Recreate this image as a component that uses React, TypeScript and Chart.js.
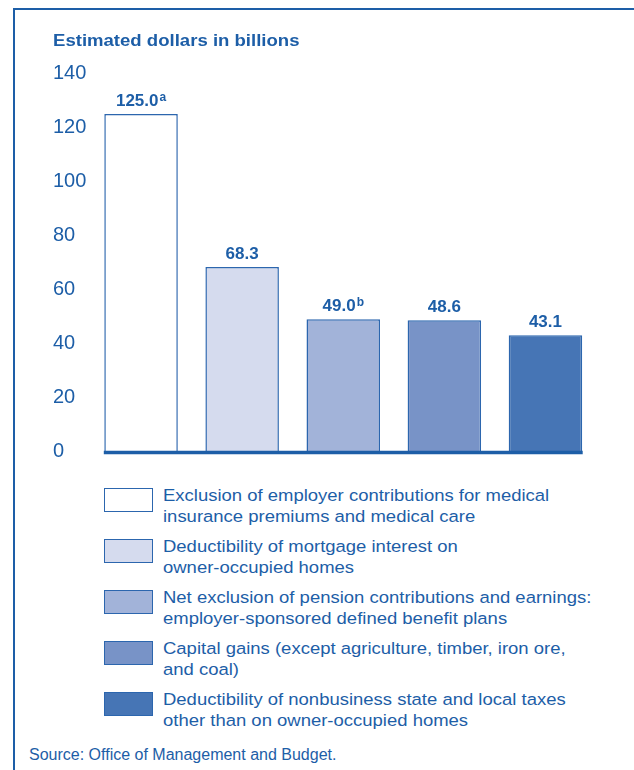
import React, { useEffect, useRef } from "react";
import { Chart, registerables } from "chart.js";

Chart.register(...registerables);

const titleText = "Estimated dollars in billions";
const sourceText = "Source: Office of Management and Budget.";

const categories = [
  "Exclusion of employer contributions for medical insurance premiums and medical care",
  "Deductibility of mortgage interest on owner-occupied homes",
  "Net exclusion of pension contributions and earnings: employer-sponsored defined benefit plans",
  "Capital gains (except agriculture, timber, iron ore, and coal)",
  "Deductibility of nonbusiness state and local taxes other than on owner-occupied homes",
];

const legendLines = [
  ["Exclusion of employer contributions for medical", "insurance premiums and medical care"],
  ["Deductibility of mortgage interest on", "owner-occupied homes"],
  ["Net exclusion of pension contributions and earnings:", "employer-sponsored defined benefit plans"],
  ["Capital gains (except agriculture, timber, iron ore,", "and coal)"],
  ["Deductibility of nonbusiness state and local taxes", "other than on owner-occupied homes"],
];

const values = [125.0, 68.3, 49.0, 48.6, 43.1];
const valueLabels = ["125.0", "68.3", "49.0", "48.6", "43.1"];
const footnotes = ["a", "", "b", "", ""];
const yTicks = [0, 20, 40, 60, 80, 100, 120, 140];

const fillColors = ["#ffffff", "#d5dbee", "#a2b3d9", "#7893c7", "#4675b5"];
const BLUE = "#1d5ea7";
const BORDER = "#2c66ae";
const FONT = "'Liberation Sans', Arial, Helvetica, sans-serif";

const barDecor = {
  id: "barDecor",
  afterDatasetsDraw(chart: any) {
    const ctx = chart.ctx;
    const meta = chart.getDatasetMeta(0);
    const y0 = chart.scales.y.getPixelForValue(0);
    ctx.save();
    const first = meta.data[0];
    const last = meta.data[meta.data.length - 1];
    ctx.strokeStyle = BLUE;
    ctx.lineWidth = 3.5;
    ctx.beginPath();
    ctx.moveTo(first.x - first.width / 2 - 0.5, y0 + 1);
    ctx.lineTo(last.x + last.width / 2 + 0.5, y0 + 1);
    ctx.stroke();

    meta.data.forEach((bar: any, i: number) => {
      const main = valueLabels[i];
      const sup = footnotes[i];
      ctx.font = `bold 17px ${FONT}`;
      const mw = ctx.measureText(main).width;
      ctx.font = `bold 12px ${FONT}`;
      const sw = sup ? ctx.measureText(sup).width + 1 : 0;
      const x0 = bar.x - (mw + sw) / 2;
      const base = bar.y - 8;
      ctx.fillStyle = BLUE;
      ctx.textAlign = "left";
      ctx.textBaseline = "alphabetic";
      ctx.font = `bold 17px ${FONT}`;
      ctx.fillText(main, x0, base);
      if (sup) {
        ctx.font = `bold 12px ${FONT}`;
        ctx.fillText(sup, x0 + mw + 1, base - 5.5);
      }
    });
    ctx.restore();
  },
};

export default function App() {
  const canvasRef = useRef<HTMLCanvasElement | null>(null);

  useEffect(() => {
    if (!canvasRef.current) return;
    const chart = new Chart(canvasRef.current, {
      type: "bar",
      data: {
        labels: categories,
        datasets: [
          {
            data: values,
            backgroundColor: fillColors,
            borderColor: BORDER,
            borderWidth: 1.5,
            borderSkipped: "start",
            barPercentage: 0.727,
            categoryPercentage: 1,
          },
        ],
      },
      options: {
        responsive: false,
        maintainAspectRatio: false,
        devicePixelRatio: 1,
        animation: false,
        layout: { padding: { left: 53, right: 38, top: 73.5, bottom: 23.5 } },
        plugins: {
          legend: { display: false },
          title: { display: false },
          tooltip: { enabled: false },
        },
        scales: {
          x: { display: false },
          y: {
            min: 0,
            max: 140,
            grid: { display: false },
            border: { display: false },
            afterBuildTicks: (s: any) => {
              s.ticks = yTicks.map((v) => ({ value: v }));
            },
            afterFit: (s: any) => {
              s.width = 37.5;
            },
            ticks: {
              crossAlign: "far",
              padding: 0,
              color: BLUE,
              font: { family: FONT, size: 20 },
            },
          },
        },
      },
      plugins: [barDecor],
    });
    return () => chart.destroy();
  }, []);

  return (
    <div
      style={{
        position: "absolute",
        left: 0,
        top: 0,
        width: 634,
        height: 770,
        overflow: "hidden",
        background: "#ffffff",
        fontFamily: FONT,
        color: BLUE,
      }}
    >
      <div
        style={{
          position: "absolute",
          left: 13,
          top: 8,
          width: 640,
          height: 800,
          borderTop: `2px solid ${BLUE}`,
          borderLeft: `2px solid ${BLUE}`,
          boxSizing: "border-box",
        }}
      />
      <canvas
        ref={canvasRef}
        width={634}
        height={475}
        style={{ position: "absolute", left: 0, top: 0, width: 634, height: 475 }}
      />
      <div
        style={{
          position: "absolute",
          left: 53,
          top: 30.4,
          fontSize: 16.3,
          lineHeight: "20px",
          fontWeight: "bold",
          whiteSpace: "nowrap",
          transform: "scaleX(1.14)",
          transformOrigin: "left top",
        }}
      >
        {titleText}
      </div>
      {legendLines.map((lines, i) => (
        <React.Fragment key={i}>
          <div
            style={{
              position: "absolute",
              left: 104,
              top: 488 + i * 51,
              width: 49,
              height: 24,
              boxSizing: "border-box",
              border: `1.5px solid ${BORDER}`,
              background: fillColors[i],
            }}
          />
          {lines.map((ln, j) => (
            <div
              key={j}
              style={{
                position: "absolute",
                left: 163,
                top: 484.5 + i * 51 + j * 21,
                fontSize: 16.3,
                lineHeight: "21px",
                whiteSpace: "nowrap",
                transform: "scaleX(1.135)",
                transformOrigin: "left top",
              }}
            >
              {ln}
            </div>
          ))}
        </React.Fragment>
      ))}
      <div
        style={{
          position: "absolute",
          left: 29,
          top: 744.5,
          fontSize: 16,
          lineHeight: "20px",
          whiteSpace: "nowrap",
        }}
      >
        {sourceText}
      </div>
    </div>
  );
}
